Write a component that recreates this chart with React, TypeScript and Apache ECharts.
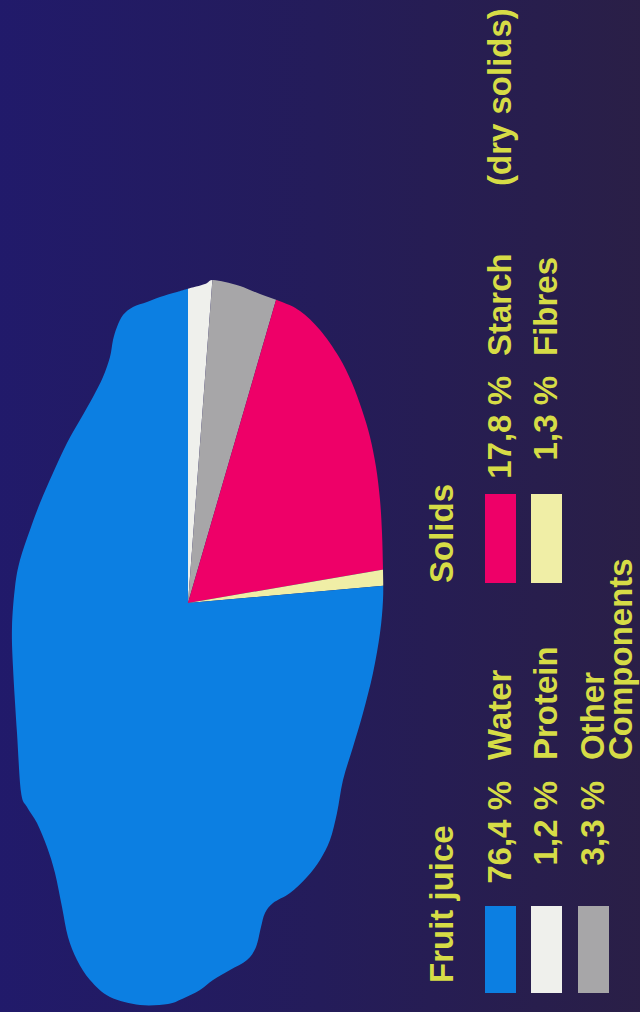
import React, { useEffect, useRef } from "react";
import * as echarts from "echarts";

// ---- data ----
const names = ["Protein", "Other Components", "Starch", "Fibres", "Water"];
const values = [1.2, 3.3, 17.8, 1.3, 76.4];
const colors = ["#eff0ec", "#a7a6a8", "#ee0068", "#f0eea6", "#0c7fe2"];
const groupTitles = ["Fruit juice", "Solids"];
const groupNotes = ["", "(dry solids)"];
// legend order inside each group
const groupMembers = [
  ["Water", "Protein", "Other Components"],
  ["Starch", "Fibres"],
];

// potato outline (decorative clip shape), counter-clockwise on screen
const outline: number[][] = [
  [212, 280], [205, 284], [187, 289], [177, 292], [160, 297], [147, 302], [133, 307],
  [123, 315], [117, 327], [113, 340], [110, 357], [103, 377], [93, 397], [80, 420],
  [67, 443], [53, 473], [40, 503], [30, 530], [20, 560], [15, 587], [12, 627],
  [13, 667], [17, 733], [21, 792], [27, 807], [37, 823], [47, 847], [55, 873],
  [62, 907], [68, 937], [77, 960], [90, 980], [110, 997], [140, 1005], [168, 1004],
  [182, 999], [200, 990], [213, 980], [230, 970], [247, 960], [256, 947], [261, 927],
  [265, 913], [273, 903], [290, 893], [307, 877], [320, 860], [330, 840], [337, 813],
  [343, 780], [353, 747], [363, 713], [373, 673], [380, 633], [383, 600], [383, 570],
  [382, 533], [380, 500], [376, 467], [370, 437], [362, 410], [352, 383], [339, 357],
  [320, 330], [300, 311], [282, 302], [260, 294], [240, 286], [225, 282],
];

function smoothClosed(pts: number[][]): string {
  const n = pts.length;
  let d = `M${pts[0][0]} ${pts[0][1]}`;
  for (let i = 0; i < n; i++) {
    const p0 = pts[(i - 1 + n) % n];
    const p1 = pts[i];
    const p2 = pts[(i + 1) % n];
    const p3 = pts[(i + 2) % n];
    const c1x = p1[0] + (p2[0] - p0[0]) / 6;
    const c1y = p1[1] + (p2[1] - p0[1]) / 6;
    const c2x = p2[0] - (p3[0] - p1[0]) / 6;
    const c2y = p2[1] - (p3[1] - p1[1]) / 6;
    d += ` C${c1x.toFixed(2)} ${c1y.toFixed(2)} ${c2x.toFixed(2)} ${c2y.toFixed(2)} ${p2[0]} ${p2[1]}`;
  }
  return d + " Z";
}

const W = 640;
const H = 1012;
let registered = false;

function fmt(v: number) {
  return v.toFixed(1).replace(".", ",") + " %";
}

export default function App() {
  const ref = useRef<HTMLDivElement>(null);
  useEffect(() => {
    if (!ref.current) return;
    if (!registered) {
      const d = `M-10 -10 L${W + 10} -10 L${W + 10} ${H + 10} L-10 ${H + 10} Z ` + smoothClosed(outline);
      echarts.graphic.registerShape("potatoMask", echarts.graphic.extendPath(d, {}));
      registered = true;
    }
    const chart = echarts.init(ref.current, null, { renderer: "svg" });

    const textColor = "#d6dc46";
    const font = 'bold 33px "Liberation Sans", Arial, sans-serif';
    const rot = Math.PI / 2;
    const mkText = (text: string, x: number, y: number, align: string) => ({
      type: "text",
      x,
      y,
      rotation: rot,
      z: 30,
      silent: true,
      style: {
        text,
        fill: textColor,
        font,
        lineHeight: 33,
        align,
        verticalAlign: "middle",
        textAlign: align,
        textVerticalAlign: "middle",
      },
    });

    // layout of legend groups
    const headerX = 441;
    const rowX = [499, 545, 592];
    const lineStep = 28;
    const groupLayout = [
      { headerY: 983, swTop: 906, swBottom: 993, numEnd: 781, wordStart: 760 },
      { headerY: 583, swTop: 494, swBottom: 583, numEnd: 376, wordStart: 356 },
    ];

    const elements: any[] = [];
    elements.push({
      type: "potatoMask",
      x: 0,
      y: 0,
      z: 20,
      silent: true,
      style: {
        fill: new echarts.graphic.LinearGradient(0, 0, 1, 0, [
          { offset: 0, color: "#211a6b" },
          { offset: 0.5, color: "#241c5a" },
          { offset: 1, color: "#2a1f46" },
        ]),
      },
    });

    groupTitles.forEach((title, g) => {
      const L = groupLayout[g];
      elements.push(mkText(title, headerX, L.headerY, "left"));
      groupMembers[g].forEach((name, r) => {
        const idx = names.indexOf(name);
        const x = rowX[r];
        elements.push({
          type: "rect",
          z: 30,
          silent: true,
          shape: { x: x - 14, y: L.swTop, width: 31, height: L.swBottom - L.swTop },
          style: { fill: colors[idx] },
        });
        elements.push(mkText(fmt(values[idx]), x, L.numEnd, "right"));
        const words = name.split(" ");
        words.forEach((w, k) => {
          elements.push(mkText(w, x + k * lineStep, L.wordStart, "left"));
        });
      });
      if (groupNotes[g]) {
        elements.push(mkText(groupNotes[g], rowX[0], 186, "left"));
      }
    });

    chart.setOption({
      animation: false,
      backgroundColor: "#231c62",
      series: [
        {
          type: "pie",
          center: [188, 603],
          radius: 440,
          startAngle: 90,
          clockwise: true,
          silent: true,
          label: { show: false },
          labelLine: { show: false },
          emphasis: { disabled: true },
          itemStyle: { borderWidth: 0 },
          data: names.map((n, i) => ({ name: n, value: values[i], itemStyle: { color: colors[i] } })),
        },
      ],
      graphic: { elements },
    });
    return () => chart.dispose();
  }, []);
  return (
    <div
      ref={ref}
      style={{ position: "fixed", left: 0, top: 0, width: W, height: H }}
    />
  );
}
